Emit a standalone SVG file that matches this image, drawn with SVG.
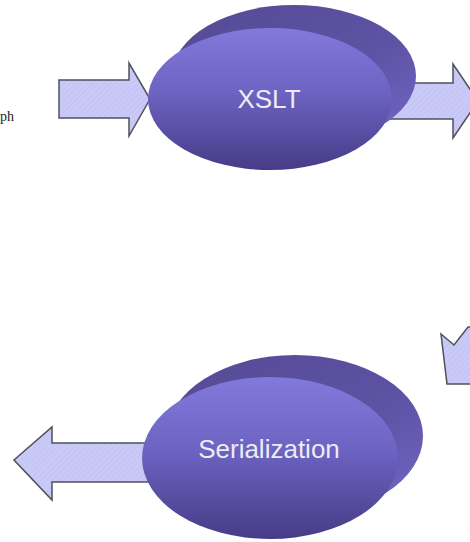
<svg xmlns="http://www.w3.org/2000/svg" width="470" height="542" viewBox="0 0 470 542">
  <defs>
    <linearGradient id="frontFill" x1="0" y1="0" x2="0" y2="1">
      <stop offset="0" stop-color="#8279dc"/>
      <stop offset="0.45" stop-color="#6d63c2"/>
      <stop offset="1" stop-color="#463c86"/>
    </linearGradient>
    <linearGradient id="backFill" x1="0" y1="0" x2="1" y2="1">
      <stop offset="0" stop-color="#554a94"/>
      <stop offset="0.6" stop-color="#5e53a4"/>
      <stop offset="1" stop-color="#7468c8"/>
    </linearGradient>
    <pattern id="hatch" width="4" height="4" patternUnits="userSpaceOnUse" patternTransform="rotate(45)">
      <rect width="4" height="4" fill="#cacaf9"/>
      <line x1="0" y1="0" x2="0" y2="4" stroke="#bdbdf0" stroke-width="1.2"/>
    </pattern>
  </defs>
  <style>
    .arrow { fill: url(#hatch); stroke: #505058; stroke-width: 1.5; stroke-linejoin: miter; }
    .back { fill: url(#backFill); }
    .front { fill: url(#frontFill); }
    .label { font-family: "Liberation Sans", Arial, sans-serif; font-size: 26px; fill: #ececf4; text-anchor: middle; }
    .side { font-family: "Liberation Serif", "Times New Roman", serif; font-size: 14px; fill: #222; }
  </style>

  <text class="side" x="0" y="121">ph</text>

  <g id="connectors">
    <!-- input arrow into XSLT -->
    <polygon class="arrow" points="59,80 129,80 129,63 150,99 129,136 129,118 59,118"/>
    <!-- output arrow from XSLT -->
    <polygon class="arrow" points="360,83 453,83 453,64 478,101 453,138 453,119 360,119"/>
    <!-- partial arrow on the right edge -->
    <polygon class="arrow" points="441,334 454,345 468,327 471,327 471,384 447,384"/>
    <!-- output arrow from Serialization -->
    <polygon class="arrow" points="160,443 52,443 52,427 14,460 52,500 52,482 160,482"/>
  </g>

  <g id="xslt">
    <ellipse class="back" cx="294" cy="76" rx="122" ry="71"/>
    <ellipse class="front" cx="270" cy="99" rx="122" ry="71"/>
    <text class="label" x="269" y="108">XSLT</text>
  </g>

  <g id="serialization">
    <ellipse class="back" cx="295" cy="436" rx="128" ry="81"/>
    <ellipse class="front" cx="270" cy="458" rx="128" ry="81"/>
    <text class="label" x="269" y="458">Serialization</text>
  </g>
</svg>
